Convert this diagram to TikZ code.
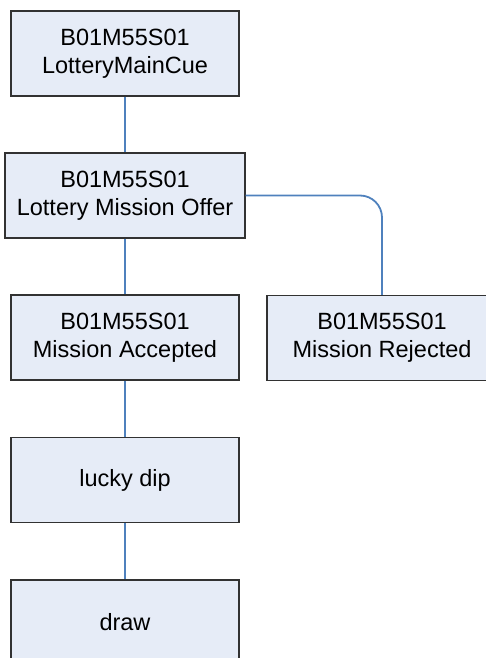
\documentclass[tikz,border=0pt]{standalone}
\usepackage{fontspec}
\setmainfont{Liberation Sans}
\definecolor{boxfill}{RGB}{230,236,247}
\definecolor{boxline}{RGB}{50,50,50}
\definecolor{linkblue}{RGB}{79,129,189}
\begin{document}
\begin{tikzpicture}[x=1pt,y=-1pt,
  box/.style={draw=boxline,fill=boxfill,line width=1.2pt,inner sep=0pt,
    minimum height=85pt,align=center,font=\fontsize{23.5}{28}\selectfont},
  link/.style={draw=linkblue,line width=1.8pt}]
\useasboundingbox (0,0) rectangle (486,658);
\clip (0,0) rectangle (486,658);
\node[box,minimum width=228pt] (cue) at (125,53.5) {B01M55S01\\LotteryMainCue};
\node[box,minimum width=240pt] (offer) at (125,195.5) {B01M55S01\\Lottery Mission Offer};
\node[box,minimum width=228pt] (acc) at (125,337.5) {B01M55S01\\Mission Accepted};
\node[box,minimum width=230pt] (rej) at (382,338) {B01M55S01\\Mission Rejected};
\node[box,minimum width=228pt] (dip) at (125,480) {lucky dip};
\node[box,minimum width=228pt] (drw) at (125,622.5) {draw};
\draw[link] (cue) -- (offer);
\draw[link] (offer) -- (acc);
\draw[link] (acc) -- (dip);
\draw[link] (dip) -- (drw);
\draw[link,rounded corners=22pt] (offer.east) -| (rej.north);
\end{tikzpicture}
\end{document}
